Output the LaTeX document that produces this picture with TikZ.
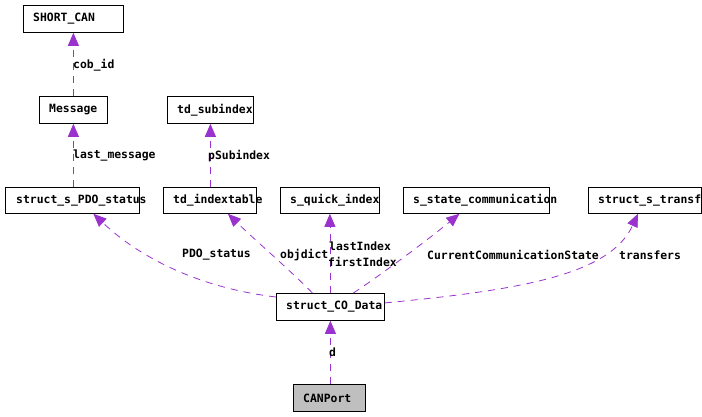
\documentclass[tikz,border=0pt]{standalone}
\usepackage{fontspec}
\newfontfamily\dmono{DejaVu Sans Mono}
\usetikzlibrary{arrows.meta,calc}
\definecolor{edgec}{HTML}{9A32CD}
\definecolor{grayfill}{HTML}{BFBFBF}
\tikzset{
  box/.style={draw=black, line width=0.8pt, fill=white, inner sep=0pt, anchor=north west},
  btxt/.style={anchor=west, inner sep=0pt, font=\dmono\bfseries\fontsize{11.4}{12}\selectfont, text=black},
  lbl/.style={anchor=west, inner sep=0pt, font=\dmono\bfseries\fontsize{11.4}{12}\selectfont, text=black},
  edge/.style={draw=edgec, line width=0.8pt, dash pattern=on 7pt off 6pt, -{Triangle[length=13pt,width=11pt,fill=edgec]}},
}
\begin{document}
\begin{tikzpicture}[x=1pt,y=-1pt]
\useasboundingbox (0,0) rectangle (702,416);
% boxes
\node[box, minimum width=100pt, minimum height=27pt] (shortcan) at (23,5) {};
\node[box, minimum width=68pt, minimum height=27pt] (message) at (39,96) {};
\node[box, minimum width=86pt, minimum height=27pt] (subindex) at (167,96) {};
\node[box, minimum width=134pt, minimum height=26pt] (pdo) at (5,187) {};
\node[box, minimum width=93pt, minimum height=26pt] (indextable) at (163,187) {};
\node[box, minimum width=99pt, minimum height=26pt] (quick) at (280,187) {};
\node[box, minimum width=146pt, minimum height=26pt] (state) at (403,187) {};
\node[box, minimum width=113pt, minimum height=26pt] (transf) at (588,187) {};
\node[box, minimum width=108pt, minimum height=27pt] (codata) at (276,293) {};
\node[box, fill=grayfill, minimum width=72pt, minimum height=27pt] (canport) at (293,384) {};
% edges
\draw[edge] (message.north -| shortcan.south) -- (shortcan.south);
\draw[edge] (pdo.north -| message.south) -- (message.south);
\draw[edge] (indextable.north -| subindex.south) -- (subindex.south);
\draw[edge] ($(codata.north west)+(0,4)$) .. controls (200,288) and (140,258) .. ($(pdo.south)+(21,0)$);
\draw[edge] ($(codata.north)+(-18,0)$) .. controls (292,272) and (255,240) .. ($(indextable.south)+(18,0)$);
\draw[edge] (codata.north -| quick.south) -- (quick.south);
\draw[edge] ($(codata.north)+(23,0)$) .. controls (385,272) and (430,238) .. ($(state.south)+(-17,0)$);
\draw[edge] ($(codata.east)+(0,-4)$) .. controls (520,290) and (610,275) .. ($(transf.south)+(-7,0)$);
\draw[edge] (canport.north -| codata.south) -- (codata.south);
% box texts
\node[btxt] (t1) at ($(shortcan.west)+(10,0)$) {SHORT\_CAN};
\node[btxt] (t2) at ($(message.west)+(10,0)$) {Message};
\node[btxt] (t3) at ($(subindex.west)+(10,0)$) {td\_subindex};
\node[btxt] (t4) at ($(pdo.west)+(11,0)$) {struct\_s\_PDO\_status};
\node[btxt] (t5) at ($(indextable.west)+(10,0)$) {td\_indextable};
\node[btxt] (t6) at ($(quick.west)+(10,0)$) {s\_quick\_index};
\node[btxt] (t7) at ($(state.west)+(10,0)$) {s\_state\_communication};
\node[btxt] (t8) at ($(transf.west)+(10,0)$) {struct\_s\_transf};
\node[btxt] (t9) at ($(codata.west)+(10,0)$) {struct\_CO\_Data};
\node[btxt] (t10) at ($(canport.west)+(10,0)$) {CANPort};
% labels
\node[lbl] (l1) at (73,65) {cob\_id};
\node[lbl] (l2) at (73,156) {last\_message};
\node[lbl] (l3) at (208,156) {pSubindex};
\node[lbl] (l4) at (182,255) {PDO\_status};
\node[lbl] (l5) at (280,255) {objdict};
\node[lbl] (l6) at (329,246) {lastIndex};
\node[lbl] (l7) at (328,262) {firstIndex};
\node[lbl] (l8) at (427,255) {CurrentCommunicationState};
\node[lbl] (l9) at (619,255) {transfers};
\node[lbl] (l10) at (329,352) {d};
\end{tikzpicture}
\end{document}
